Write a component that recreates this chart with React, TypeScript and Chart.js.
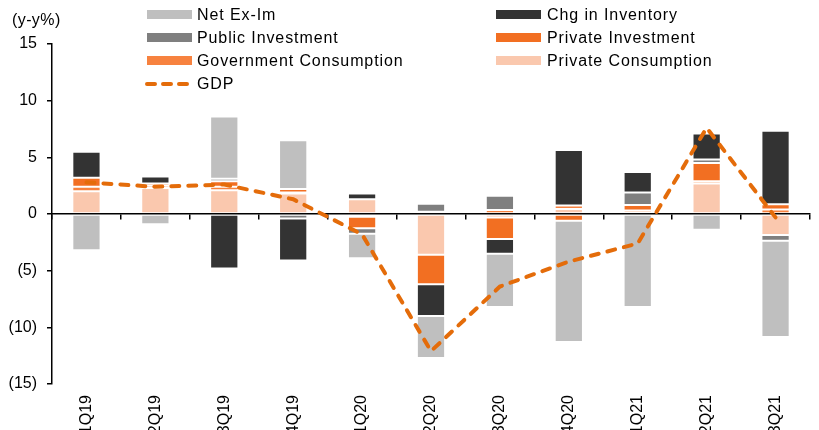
import React, { useEffect, useRef } from 'react';
import { Chart, registerables } from 'chart.js';

Chart.register(...registerables);

const categories = ['1Q19', '2Q19', '3Q19', '4Q19', '1Q20', '2Q20', '3Q20', '4Q20', '1Q21', '2Q21', '3Q21'];
const privateConsumption = [2.0, 2.3, 2.1, 1.8, 1.3, -3.6, -0.3, 0.45, 0.1, 2.7, -1.85];
const governmentConsumption = [0.4, 0.2, 0.3, 0.1, -0.25, 0.2, 0.35, 0.3, 0.2, 0.2, 0.4];
const privateInvestment = [0.8, 0.2, 0.5, 0.3, -1.0, -2.6, -1.9, -0.6, 0.5, 1.6, 0.45];
const publicInvestment = [0, 0, 0.2, -0.4, -0.5, 0.7, 1.25, 0, 1.1, 0.3, -0.5];
const chgInInventory = [2.3, 0.6, -4.8, -3.7, 0.5, -2.8, -1.3, 4.9, 1.8, 2.3, 6.5];
const netExIm = [-3.2, -0.9, 5.5, 4.3, -2.15, -3.7, -4.7, -10.7, -8.2, -1.4, -8.5];
const gdp = [2.8, 2.4, 2.6, 1.3, -1.8, -12.1, -6.4, -4.2, -2.6, 7.6, -0.3];
const yTicks = [-15, -10, -5, 0, 5, 10, 15];

const FONT = "'Liberation Sans', Arial, sans-serif";
const C_NX = '#BFBFBF';
const C_PUB = '#7F7F7F';
const C_GC = '#F7823F';
const C_PI = '#F26F22';
const C_INV = '#333333';
const C_PC = '#FAC8AE';
const C_GDP = '#E46C0A';

type LegendItem = { label: string; color: string; dashed?: boolean; col: number; row: number };
const legendItems: LegendItem[] = [
  { label: 'Net Ex-Im', color: C_NX, col: 0, row: 0 },
  { label: 'Public Investment', color: C_PUB, col: 0, row: 1 },
  { label: 'Government Consumption', color: C_GC, col: 0, row: 2 },
  { label: 'GDP', color: C_GDP, dashed: true, col: 0, row: 3 },
  { label: 'Chg in Inventory', color: C_INV, col: 1, row: 0 },
  { label: 'Private Investment', color: C_PI, col: 1, row: 1 },
  { label: 'Private Consumption', color: C_PC, col: 1, row: 2 },
];

export default function App() {
  const ref = useRef<HTMLCanvasElement>(null);

  useEffect(() => {
    document.body.style.margin = '0';
    document.body.style.overflow = 'hidden';
    const bar = (label: string, data: number[], color: string) => ({
      type: 'bar' as const,
      label,
      data,
      backgroundColor: color,
      borderColor: 'rgba(255,255,255,0.22)',
      borderWidth: 1,
      borderSkipped: false,
      barPercentage: 0.41,
      categoryPercentage: 1,
      order: 1,
    });
    const chart = new Chart(ref.current as HTMLCanvasElement, {
      type: 'bar',
      data: {
        labels: categories,
        datasets: [
          bar('Private Consumption', privateConsumption, C_PC),
          bar('Government Consumption', governmentConsumption, C_GC),
          bar('Private Investment', privateInvestment, C_PI),
          bar('Public Investment', publicInvestment, C_PUB),
          bar('Chg in Inventory', chgInInventory, C_INV),
          bar('Net Ex-Im', netExIm, C_NX),
          {
            type: 'line' as const,
            label: 'GDP',
            data: gdp,
            stack: 'gdp',
            borderColor: C_GDP,
            borderWidth: 4,
            borderDash: [8, 9],
            borderCapStyle: 'round',
            pointRadius: 0,
            tension: 0,
            fill: false,
            order: 0,
          } as any,
        ],
      },
      options: {
        responsive: false,
        animation: false,
        layout: { padding: { top: 44, right: 9, left: 0, bottom: 0 } },
        plugins: { legend: { display: false }, tooltip: { enabled: false } },
        scales: {
          x: {
            type: 'category',
            stacked: true,
            position: { y: 0 } as any,
            offset: true,
            grid: { display: true, offset: true, drawOnChartArea: false, drawTicks: true, tickLength: 5, color: '#000', lineWidth: 1.5 },
            border: { display: true, color: '#000', width: 1.5 },
            ticks: { display: false },
          },
          x2: {
            type: 'category',
            position: 'bottom',
            offset: true,
            grid: { display: false, drawTicks: false },
            border: { display: false },
            ticks: {
              minRotation: 90,
              maxRotation: 90,
              padding: 11,
              autoSkip: false,
              color: '#000',
              font: { family: FONT, size: 16 },
            },
            afterFit: (s: any) => { s.height = 46; },
          },
          y: {
            stacked: true,
            min: yTicks[0],
            max: yTicks[yTicks.length - 1],
            afterBuildTicks: (s: any) => { s.ticks = yTicks.map((v) => ({ value: v })); },
            ticks: {
              padding: 10,
              color: '#000',
              font: { family: FONT, size: 16 },
              callback: (v: any) => (Number(v) < 0 ? `(${-Number(v)})` : `${v}`),
            },
            grid: { drawOnChartArea: false, tickLength: 5, color: '#000', lineWidth: 1.5 },
            border: { display: true, color: '#000', width: 1.5 },
            afterFit: (s: any) => { s.width = 52; },
          },
        },
      },
    });
    return () => chart.destroy();
  }, []);

  const rowY = (r: number) => 14.5 + 23.2 * r;
  const textStyle: React.CSSProperties = {
    position: 'absolute',
    height: 20,
    lineHeight: '20px',
    fontFamily: FONT,
    fontSize: 16,
    letterSpacing: '0.9px',
    color: '#000',
    whiteSpace: 'nowrap',
  };

  return (
    <div style={{ position: 'relative', width: 819, height: 430, overflow: 'hidden', background: '#fff' }}>
      <canvas ref={ref} width={819} height={430} style={{ display: 'block' }} />
      <div style={{ ...textStyle, left: 12, top: 10, letterSpacing: '0.4px' }}>(y-y%)</div>
      {legendItems.map((it) => {
        const sx = it.col === 0 ? 147 : 496;
        const tx = it.col === 0 ? 197 : 547;
        const cy = rowY(it.row);
        return (
          <React.Fragment key={it.label}>
            {it.dashed ? (
              <svg style={{ position: 'absolute', left: sx - 4, top: cy - 4 }} width={54} height={8}>
                <line x1={4} y1={4} x2={50} y2={4} stroke={it.color} strokeWidth={4} strokeDasharray="8 8" strokeLinecap="round" />
              </svg>
            ) : (
              <div style={{ position: 'absolute', left: sx, top: cy - 4.5, width: 45, height: 9, background: it.color }} />
            )}
            <div style={{ ...textStyle, left: tx, top: cy - 10 }}>{it.label}</div>
          </React.Fragment>
        );
      })}
    </div>
  );
}
